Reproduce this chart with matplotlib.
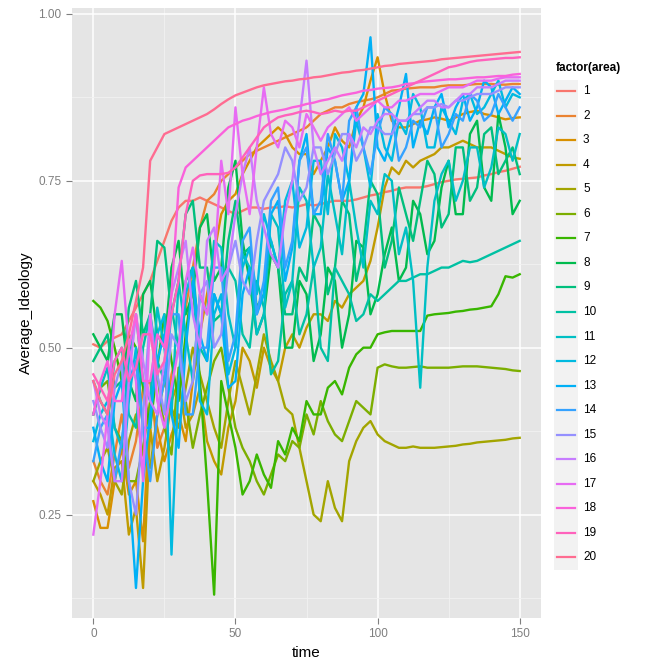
import matplotlib.pyplot as plt
from matplotlib.lines import Line2D
from matplotlib.patches import Rectangle

plt.rcParams['font.family'] = ['Liberation Sans', 'DejaVu Sans']

# time steps 0, 2.5, ..., 150
time = [i * 2.5 for i in range(61)]

areas = [str(i) for i in range(1, 21)]
colors = ["#F8766D", "#EA8331", "#D89000", "#C09B00", "#A3A500", "#7CAE00", "#39B600",
          "#00BB4E", "#00BF7D", "#00C1A3", "#00BFC4", "#00BAE0", "#00B0F6", "#35A2FF",
          "#9590FF", "#C77CFF", "#E76BF3", "#FA62DB", "#FF62BC", "#FF6C91"]

a1 = [0.505, 0.50, 0.51, 0.515, 0.52, 0.54, 0.56, 0.58, 0.60, 0.63,
      0.66, 0.69, 0.71, 0.72, 0.72, 0.725, 0.72, 0.715, 0.71, 0.705,
      0.70, 0.705, 0.71, 0.71, 0.708, 0.71, 0.71, 0.712, 0.71, 0.712,
      0.715, 0.713, 0.715, 0.718, 0.72, 0.72, 0.72, 0.722, 0.725, 0.728,
      0.73, 0.733, 0.735, 0.738, 0.74, 0.74, 0.74, 0.742, 0.745, 0.748,
      0.75, 0.752, 0.753, 0.754, 0.755, 0.758, 0.76, 0.763, 0.765, 0.768, 0.771]
a2 = [0.33, 0.30, 0.28, 0.34, 0.40, 0.32, 0.36, 0.44, 0.45, 0.35,
      0.38, 0.46, 0.50, 0.56, 0.62, 0.68, 0.72, 0.73, 0.75, 0.76,
      0.77, 0.78, 0.79, 0.795, 0.80, 0.805, 0.81, 0.815, 0.82, 0.825,
      0.83, 0.84, 0.85, 0.855, 0.86, 0.86, 0.865, 0.868, 0.87, 0.872,
      0.875, 0.88, 0.885, 0.886, 0.888, 0.889, 0.89, 0.89, 0.89, 0.892,
      0.893, 0.893, 0.893, 0.894, 0.895, 0.895, 0.895, 0.894, 0.894, 0.895, 0.895]
a3 = [0.27, 0.23, 0.23, 0.30, 0.35, 0.28, 0.30, 0.21, 0.42, 0.38,
      0.33, 0.37, 0.40, 0.36, 0.45, 0.52, 0.58, 0.64, 0.70, 0.72,
      0.73, 0.76, 0.78, 0.80, 0.81, 0.82, 0.83, 0.82, 0.80, 0.79,
      0.79, 0.76, 0.78, 0.80, 0.83, 0.81, 0.80, 0.84, 0.86, 0.90,
      0.935, 0.88, 0.84, 0.83, 0.83, 0.835, 0.84, 0.842, 0.845, 0.843,
      0.84, 0.845, 0.85, 0.853, 0.855, 0.85, 0.848, 0.845, 0.842, 0.844, 0.845]
a4 = [0.30, 0.28, 0.25, 0.32, 0.33, 0.22, 0.26, 0.14, 0.38, 0.30,
      0.35, 0.42, 0.45, 0.38, 0.40, 0.44, 0.36, 0.33, 0.31, 0.38,
      0.42, 0.50, 0.48, 0.44, 0.50, 0.47, 0.45, 0.50, 0.52, 0.50,
      0.53, 0.55, 0.55, 0.54, 0.57, 0.56, 0.58, 0.59, 0.60, 0.63,
      0.68, 0.74, 0.77, 0.76, 0.78, 0.77, 0.78, 0.785, 0.79, 0.80,
      0.80, 0.805, 0.81, 0.805, 0.80, 0.80, 0.80, 0.795, 0.79, 0.785, 0.783]
a5 = [0.30, 0.33, 0.35, 0.30, 0.28, 0.36, 0.40, 0.34, 0.32, 0.40,
      0.45, 0.41, 0.38, 0.44, 0.50, 0.46, 0.42, 0.38, 0.35, 0.42,
      0.48, 0.44, 0.40, 0.46, 0.52, 0.48, 0.45, 0.41, 0.40, 0.35,
      0.30, 0.25, 0.24, 0.30, 0.26, 0.24, 0.33, 0.36, 0.38, 0.39,
      0.37, 0.36, 0.355, 0.35, 0.35, 0.352, 0.35, 0.35, 0.35, 0.351,
      0.352, 0.353, 0.355, 0.356, 0.358, 0.359, 0.36, 0.361, 0.362, 0.364, 0.365]
a6 = [0.40, 0.44, 0.45, 0.38, 0.36, 0.30, 0.30, 0.35, 0.42, 0.46,
      0.38, 0.34, 0.47, 0.42, 0.35, 0.40, 0.44, 0.48, 0.50, 0.44,
      0.38, 0.35, 0.33, 0.30, 0.28, 0.31, 0.34, 0.33, 0.36, 0.35,
      0.40, 0.37, 0.42, 0.39, 0.37, 0.36, 0.39, 0.42, 0.41, 0.40,
      0.47, 0.475, 0.472, 0.47, 0.47, 0.471, 0.472, 0.47, 0.47, 0.47,
      0.47, 0.471, 0.472, 0.472, 0.472, 0.471, 0.47, 0.469, 0.468, 0.466, 0.465]
a7 = [0.57, 0.56, 0.54, 0.50, 0.45, 0.52, 0.50, 0.44, 0.38, 0.47,
      0.55, 0.48, 0.42, 0.52, 0.60, 0.45, 0.30, 0.13, 0.45, 0.40,
      0.35, 0.28, 0.30, 0.34, 0.31, 0.29, 0.36, 0.34, 0.38, 0.36,
      0.42, 0.40, 0.40, 0.44, 0.45, 0.43, 0.47, 0.49, 0.50, 0.50,
      0.52, 0.523, 0.525, 0.525, 0.525, 0.525, 0.525, 0.548, 0.55, 0.551,
      0.552, 0.554, 0.555, 0.557, 0.558, 0.56, 0.562, 0.58, 0.607, 0.605, 0.61]
a8 = [0.52, 0.50, 0.48, 0.55, 0.55, 0.45, 0.42, 0.58, 0.60, 0.52,
      0.50, 0.62, 0.66, 0.55, 0.58, 0.68, 0.70, 0.60, 0.62, 0.74,
      0.78, 0.66, 0.60, 0.52, 0.55, 0.64, 0.62, 0.50, 0.50, 0.60,
      0.58, 0.48, 0.52, 0.62, 0.60, 0.50, 0.55, 0.66, 0.65, 0.55,
      0.58, 0.64, 0.68, 0.60, 0.62, 0.72, 0.70, 0.64, 0.66, 0.74,
      0.78, 0.70, 0.70, 0.82, 0.84, 0.74, 0.72, 0.85, 0.80, 0.70, 0.72]
a9 = [0.48, 0.50, 0.52, 0.44, 0.45, 0.56, 0.60, 0.52, 0.55, 0.66,
      0.65, 0.55, 0.60, 0.70, 0.72, 0.62, 0.62, 0.54, 0.55, 0.66,
      0.72, 0.64, 0.65, 0.56, 0.58, 0.66, 0.62, 0.55, 0.55, 0.62,
      0.60, 0.70, 0.68, 0.58, 0.62, 0.72, 0.70, 0.60, 0.65, 0.75,
      0.73, 0.62, 0.66, 0.74, 0.70, 0.66, 0.72, 0.78, 0.76, 0.68,
      0.70, 0.80, 0.80, 0.72, 0.74, 0.82, 0.83, 0.76, 0.78, 0.80, 0.76]
a10 = [0.45, 0.42, 0.40, 0.48, 0.50, 0.40, 0.38, 0.50, 0.55, 0.48,
       0.45, 0.56, 0.50, 0.60, 0.62, 0.50, 0.48, 0.58, 0.55, 0.62,
       0.60, 0.52, 0.50, 0.60, 0.56, 0.46, 0.48, 0.58, 0.60, 0.52,
       0.55, 0.62, 0.50, 0.48, 0.62, 0.60, 0.58, 0.54, 0.55, 0.58,
       0.57, 0.58, 0.59, 0.60, 0.60, 0.605, 0.61, 0.61, 0.615, 0.62,
       0.62, 0.625, 0.63, 0.628, 0.63, 0.635, 0.64, 0.645, 0.65, 0.655, 0.66]
a11 = [0.40, 0.44, 0.47, 0.38, 0.35, 0.48, 0.55, 0.45, 0.42, 0.56,
       0.50, 0.40, 0.60, 0.52, 0.45, 0.58, 0.55, 0.66, 0.65, 0.55,
       0.50, 0.64, 0.62, 0.52, 0.55, 0.70, 0.68, 0.56, 0.60, 0.74,
       0.72, 0.62, 0.65, 0.76, 0.70, 0.64, 0.75, 0.68, 0.62, 0.72,
       0.70, 0.76, 0.75, 0.64, 0.68, 0.60, 0.44, 0.62, 0.72, 0.76,
       0.78, 0.72, 0.75, 0.80, 0.80, 0.74, 0.77, 0.83, 0.82, 0.78, 0.82]
a12 = [0.36, 0.40, 0.42, 0.34, 0.30, 0.42, 0.50, 0.38, 0.38, 0.52,
       0.55, 0.19, 0.45, 0.58, 0.62, 0.42, 0.40, 0.55, 0.58, 0.46,
       0.50, 0.62, 0.65, 0.58, 0.70, 0.66, 0.62, 0.72, 0.75, 0.65,
       0.68, 0.78, 0.78, 0.70, 0.82, 0.80, 0.75, 0.84, 0.80, 0.74,
       0.85, 0.80, 0.78, 0.84, 0.82, 0.88, 0.86, 0.80, 0.80, 0.86,
       0.84, 0.82, 0.87, 0.88, 0.85, 0.86, 0.88, 0.90, 0.86, 0.88, 0.875]
a13 = [0.38, 0.33, 0.30, 0.42, 0.45, 0.30, 0.14, 0.30, 0.40, 0.48,
       0.52, 0.40, 0.35, 0.50, 0.60, 0.52, 0.48, 0.58, 0.55, 0.44,
       0.45, 0.58, 0.62, 0.55, 0.58, 0.70, 0.72, 0.60, 0.65, 0.78,
       0.82, 0.70, 0.70, 0.80, 0.78, 0.72, 0.75, 0.86, 0.88, 0.965,
       0.80, 0.78, 0.82, 0.86, 0.91, 0.80, 0.84, 0.82, 0.86, 0.88,
       0.83, 0.86, 0.88, 0.84, 0.86, 0.90, 0.89, 0.85, 0.87, 0.89, 0.88]
a14 = [0.33, 0.38, 0.40, 0.30, 0.36, 0.45, 0.48, 0.38, 0.30, 0.40,
       0.45, 0.55, 0.55, 0.40, 0.40, 0.50, 0.50, 0.62, 0.62, 0.48,
       0.52, 0.66, 0.68, 0.55, 0.60, 0.72, 0.74, 0.62, 0.66, 0.78,
       0.80, 0.70, 0.72, 0.82, 0.78, 0.72, 0.84, 0.86, 0.80, 0.76,
       0.82, 0.86, 0.85, 0.78, 0.80, 0.84, 0.83, 0.86, 0.86, 0.80,
       0.82, 0.85, 0.84, 0.88, 0.87, 0.84, 0.85, 0.88, 0.86, 0.84, 0.86]
a15 = [0.42, 0.38, 0.35, 0.44, 0.48, 0.30, 0.25, 0.40, 0.55, 0.46,
       0.40, 0.52, 0.50, 0.42, 0.45, 0.58, 0.60, 0.50, 0.52, 0.62,
       0.66, 0.60, 0.58, 0.66, 0.72, 0.74, 0.76, 0.80, 0.78, 0.72,
       0.74, 0.80, 0.80, 0.76, 0.79, 0.82, 0.82, 0.78, 0.80, 0.83,
       0.83, 0.82, 0.82, 0.84, 0.84, 0.85, 0.85, 0.86, 0.86, 0.865,
       0.86, 0.87, 0.87, 0.875, 0.88, 0.88, 0.88, 0.885, 0.89, 0.89, 0.89]
a16 = [0.45, 0.40, 0.38, 0.30, 0.30, 0.45, 0.55, 0.48, 0.42, 0.40,
       0.48, 0.58, 0.62, 0.66, 0.55, 0.50, 0.66, 0.68, 0.60, 0.62,
       0.70, 0.76, 0.80, 0.72, 0.68, 0.64, 0.62, 0.70, 0.75, 0.84,
       0.93, 0.80, 0.76, 0.78, 0.80, 0.78, 0.82, 0.80, 0.83, 0.82,
       0.84, 0.85, 0.85, 0.84, 0.84, 0.85, 0.86, 0.87, 0.87, 0.86,
       0.86, 0.87, 0.88, 0.88, 0.89, 0.89, 0.89, 0.895, 0.90, 0.90, 0.90]
a17 = [0.22, 0.30, 0.40, 0.55, 0.63, 0.50, 0.45, 0.30, 0.55, 0.42,
       0.38, 0.44, 0.50, 0.60, 0.65, 0.58, 0.55, 0.62, 0.78, 0.70,
       0.86, 0.76, 0.70, 0.80, 0.89, 0.82, 0.80, 0.84, 0.83, 0.80,
       0.85, 0.83, 0.81, 0.83, 0.84, 0.85, 0.86, 0.84, 0.85, 0.86,
       0.87, 0.86, 0.86, 0.87, 0.87, 0.875, 0.88, 0.88, 0.88, 0.885,
       0.89, 0.89, 0.89, 0.895, 0.90, 0.90, 0.90, 0.903, 0.905, 0.905, 0.905]
a18 = [0.40, 0.45, 0.48, 0.42, 0.42, 0.50, 0.55, 0.45, 0.45, 0.52,
       0.50, 0.58, 0.74, 0.77, 0.78, 0.79, 0.80, 0.81, 0.82, 0.83,
       0.835, 0.84, 0.843, 0.847, 0.85, 0.853, 0.855, 0.857, 0.86, 0.862,
       0.865, 0.867, 0.87, 0.872, 0.875, 0.878, 0.88, 0.882, 0.885, 0.886,
       0.888, 0.889, 0.89, 0.892, 0.895, 0.896, 0.898, 0.899, 0.90, 0.901,
       0.902, 0.902, 0.903, 0.904, 0.905, 0.905, 0.906, 0.907, 0.907, 0.909, 0.91]
a19 = [0.46, 0.44, 0.42, 0.48, 0.50, 0.45, 0.47, 0.52, 0.52, 0.46,
       0.48, 0.55, 0.60, 0.70, 0.75, 0.758, 0.76, 0.76, 0.76, 0.762,
       0.77, 0.785, 0.80, 0.815, 0.83, 0.838, 0.845, 0.848, 0.85, 0.853,
       0.855, 0.853, 0.85, 0.852, 0.855, 0.853, 0.855, 0.855, 0.86, 0.865,
       0.87, 0.875, 0.88, 0.885, 0.89, 0.895, 0.90, 0.905, 0.91, 0.915,
       0.92, 0.922, 0.925, 0.928, 0.93, 0.931, 0.932, 0.933, 0.934, 0.934, 0.935]
a20 = [0.45, 0.42, 0.40, 0.46, 0.48, 0.52, 0.57, 0.62, 0.78, 0.80,
       0.82, 0.825, 0.83, 0.835, 0.84, 0.845, 0.85, 0.857, 0.865, 0.872,
       0.878, 0.882, 0.886, 0.89, 0.893, 0.895, 0.897, 0.899, 0.90, 0.902,
       0.903, 0.905, 0.906, 0.908, 0.91, 0.912, 0.913, 0.915, 0.916, 0.918,
       0.92, 0.922, 0.923, 0.925, 0.926, 0.927, 0.928, 0.929, 0.93, 0.932,
       0.933, 0.934, 0.935, 0.936, 0.937, 0.938, 0.939, 0.94, 0.941, 0.942, 0.943]

series = [a1, a2, a3, a4, a5, a6, a7, a8, a9, a10, a11, a12, a13, a14, a15, a16, a17, a18, a19, a20]

fig = plt.figure(figsize=(6.47, 6.69), dpi=100)
ax = fig.add_axes([0.1113, 0.0762, 0.7249, 0.912])
ax.set_facecolor('#E5E5E5')

for vals, col in zip(series, colors):
    ax.plot(time, vals, color=col, lw=1.7, zorder=3)

ax.set_xlim(-7.5, 157.5)
ax.set_ylim(0.095, 1.009)
ax.set_xticks([0, 50, 100, 150])
ax.set_yticks([0.25, 0.50, 0.75, 1.00])
ax.set_yticklabels(['0.25', '0.50', '0.75', '1.00'])
ax.set_xticks([25, 75, 125], minor=True)
ax.set_yticks([0.125, 0.375, 0.625, 0.875], minor=True)
ax.grid(which='major', color='white', lw=1.1, zorder=1)
ax.grid(which='minor', color='#F2F2F2', lw=0.6, zorder=1)
ax.set_axisbelow(True)
for s in ax.spines.values():
    s.set_visible(False)
ax.tick_params(which='major', colors='#7F7F7F', labelsize=8.5, length=4, width=0.8)
ax.tick_params(which='minor', length=0)
ax.set_xlabel('time', fontsize=11)
ax.set_ylabel('Average_Ideology', fontsize=11)

# legend
W, H = 647, 669
fig.text(556 / W, 1 - 68 / H, 'factor(area)', fontsize=8.5, fontweight='bold', va='center', ha='left')
fig.add_artist(Rectangle((554 / W, 1 - 570 / H), 24 / W, 490 / H, transform=fig.transFigure,
                         facecolor='#F2F2F2', edgecolor='none'))
for i, (name, col) in enumerate(zip(areas, colors)):
    y = 1 - (91 + i * 24.55) / H
    fig.add_artist(Line2D([557 / W, 575 / W], [y, y], transform=fig.transFigure, color=col, lw=1.6))
    fig.text(583 / W, y, name, fontsize=8.5, va='center', ha='left')

fig.savefig('out.png', dpi=100)
